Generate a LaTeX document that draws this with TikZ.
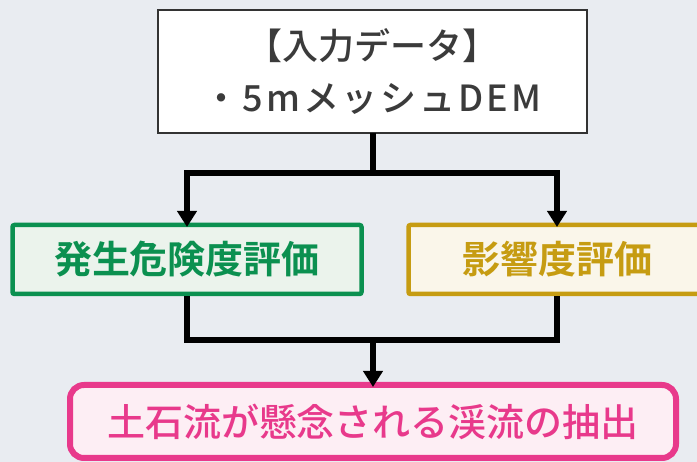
\documentclass[tikz,border=0pt]{standalone}
\usepackage{fontspec}
\setmainfont{Noto Sans CJK JP}[UprightFont={* Medium}, BoldFont={* Bold}]
\usetikzlibrary{arrows.meta}
\definecolor{bg}{HTML}{E9ECF1}
\definecolor{topborder}{HTML}{333333}
\definecolor{toptext}{HTML}{3B3B3B}
\definecolor{grn}{HTML}{0B9050}
\definecolor{grnfill}{HTML}{EBF3EC}
\definecolor{ylw}{HTML}{C69C12}
\definecolor{ylwfill}{HTML}{FAF6EA}
\definecolor{pnk}{HTML}{E8398B}
\definecolor{pnkfill}{HTML}{FDEEF4}
\tikzset{
  box/.style={inner sep=0pt, outer sep=0pt, align=center},
  inputbox/.style={box, draw=topborder, fill=white, line width=1.5pt, text=toptext,
    minimum width=429pt, minimum height=123pt, font=\fontsize{36}{52}\selectfont},
  greenbox/.style={box, draw=grn, fill=grnfill, line width=4.5pt, text=grn, rounded corners=2pt,
    minimum width=349pt, minimum height=69pt, font=\fontsize{38}{44}\selectfont\bfseries},
  yellowbox/.style={box, draw=ylw, fill=ylwfill, line width=4.5pt, text=ylw, rounded corners=2pt,
    minimum width=297pt, minimum height=69pt, font=\fontsize{38}{44}\selectfont\bfseries},
  pinkbox/.style={box, draw=pnk, fill=pnkfill, line width=6pt, text=pnk, rounded corners=14pt,
    minimum width=606pt, minimum height=73pt, font=\fontsize{38}{44}\selectfont},
  conn/.style={line width=6pt, black},
  arr/.style={conn, -{Triangle[width=19pt,length=16pt]}}
}
\begin{document}
\begin{tikzpicture}[x=1pt,y=-1pt]
\fill[bg] (0,0) rectangle (697,462);
\useasboundingbox (0,0) rectangle (697,462);
\begin{scope}
\clip (0,0) rectangle (697,462);
\node[inputbox] (input) at (372.5,71.5) {【入力データ】\\{\addfontfeature{LetterSpace=8}・5mメッシュDEM}};
\node[greenbox] (hazard) at (187,259.5) {発生危険度評価};
\node[yellowbox] (impact) at (557,259.5) {影響度評価};
\node[pinkbox] (result) at (373,421.5) {土石流が懸念される渓流の抽出};
\coordinate (j1) at (372.5,173);
\coordinate (j2) at (373,340);
\draw[conn] (input.south) -- (j1);
\draw[arr] (j1) -| ([yshift=-2pt]hazard.north);
\draw[arr] (j1) -| ([yshift=-2pt]impact.north);
\draw[conn, shorten <=2.25pt] (hazard.south) |- (j2);
\draw[conn, shorten <=2.25pt] (impact.south) |- (j2);
\draw[arr] (j2) -- ([yshift=-2pt]result.north);
\end{scope}
\end{tikzpicture}
\end{document}
